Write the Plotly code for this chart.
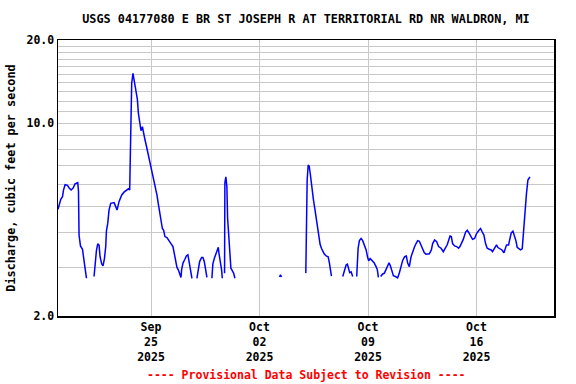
import datetime as dt
import plotly.graph_objects as go

TITLE = "USGS 04177080 E BR ST JOSEPH R AT TERRITORIAL RD NR WALDRON, MI"
Y_TITLE = "Discharge, cubic feet per second"
NOTE = "---- Provisional Data Subject to Revision ----"

START = dt.datetime(2025, 9, 19)
END = dt.datetime(2025, 10, 21)

# hours since 2025-09-19 00:00 and discharge (cfs); None = gap in record
hours = [
    0, 2.8, 4.3, 7.0, 8.5, 11.0, 14.7, 17.2, 20.3, 23.4, 26.4, 30.6, 31.7, 32.6, 34.8, 37.9, 39.9, 41.9, 44.1,
    50,
    55.8, 57.4, 59.5, 61.5, 63.6, 65.1, 67.7, 69.7, 71.9, 73.9, 75.0, 77.0, 79.0, 81.6, 86.8, 89.4, 91.4, 94.5,
    98.7, 102.2, 105.9, 109.0, 111.0, 112.1, 114.1, 116.1, 118.3, 120.3, 122.9, 124.5, 126.5, 128.5, 130.7,
    132.7, 134.7, 136.9, 138.9, 140.9, 143.0, 146.1, 149.2, 151.2, 153.2, 155.4, 157.4, 159.4, 161.6, 163.6,
    165.6, 168.7, 171.8, 174.9, 178.0, 180.2, 182.2, 184.2, 186.3, 188.4, 190.4, 191.4, 193.5, 196.5, 198.7,
    201.2, 202.7, 204.9, 207.4,
    211,
    215.1, 217.3, 219.3, 222.4, 224.4, 226.5, 228.6, 230.6,
    234,
    238.3, 239.8, 242.0, 244.0, 246.0, 248.2, 249.1, 251.3, 253.3, 254.4,
    256,
    257.9, 258.4, 259.9, 261.5, 262.6, 264.6, 266.1, 267.7, 269.8, 271.9, 273.9,
    300,
    343.0, 344.5, 346.1,
    360,
    383.7, 384.3, 385.8, 387.4, 388.9, 390.5, 392.0, 393.6, 395.6, 397.6, 399.7, 401.8, 403.8, 405.9, 407.9,
    410.0, 412.1, 415.2, 418.3, 420.3, 421.9, 423.4,
    430,
    440.9, 443.0, 446.1, 448.1, 449.7, 451.7, 453.9, 456.3,
    459,
    462.5, 463.1, 464.7, 466.7, 469.3, 471.8, 474.4, 477.1, 479.5, 481.1, 483.3, 486.3, 489.4, 492.5, 494.5, 496.1,
    498,
    499.6, 502.7, 505.4, 508.0, 510.5, 512.6, 514.6, 516.7, 519.3, 522.4, 525.9, 528.6, 531.2, 533.7, 536.8,
    539.4, 541.4, 544.0, 546.7, 549.1, 551.8, 554.4, 556.9, 559.5, 562.1, 564.6, 567.2, 569.9, 575.0, 578.1,
    580.1, 583.2, 586.3, 589.3, 593.1, 596.6, 599.7, 602.8, 607.0, 609.0, 611.0, 614.1, 617.2, 620.3, 622.4,
    624.4, 627.5, 631.1, 633.7, 636.3, 638.8, 641.9, 645.0, 648.1, 651.8, 654.3, 656.9, 659.5, 662.0, 664.6,
    667.7, 670.8, 672.8, 675.9, 679.0, 681.2, 684.3, 687.4, 690.5, 692.5, 694.5, 697.6, 699.8, 701.8, 704.4,
    706.9, 709.0, 711.0, 713.7, 716.1, 718.8, 720.3, 722.3, 723.4, 724.5, 725.4, 727.6, 730.7,
]

discharge = [
    4.87, 5.12, 5.29, 5.41, 5.72, 5.98, 5.95, 5.82, 5.72, 5.82, 6.02, 6.08, 5.68, 3.93, 3.59, 3.49, 3.28, 2.98, 2.74,
    None,
    2.78, 3.06, 3.45, 3.65, 3.61, 3.28, 3.09, 3.04, 3.23, 3.57, 4.07, 4.33, 4.84, 5.12, 5.15, 4.98, 4.84, 5.19,
    5.49, 5.62, 5.72, 5.78, 5.72, 8.33, 13.94, 15.15, 13.94, 13.0, 12.19, 10.85, 9.98, 9.38, 9.70,
    9.05, 8.70, 8.26, 7.87, 7.46, 7.05, 6.67, 6.14, 5.88, 5.49, 5.09, 4.71, 4.33, 4.15, 4.09,
    3.88, 3.85, 3.77, 3.66, 3.57, 3.38, 3.15, 3.00, 2.94, 2.82, 2.76, 2.94, 3.11, 3.21, 3.30,
    3.33, 3.15, 2.98, 2.74,
    None,
    2.74, 3.02, 3.15, 3.26, 3.26, 3.15, 2.94, 2.76,
    None,
    2.74, 3.09, 3.23, 3.33, 3.42, 3.55, 3.39, 3.18, 2.94, 2.74,
    None,
    2.86, 6.08, 6.39, 5.88, 4.53, 3.77, 3.18, 2.98, 2.92, 2.86, 2.74,
    None,
    2.77, 2.82, 2.77,
    None,
    2.86, 3.77, 6.22, 7.05, 6.99, 6.58, 6.05, 5.64, 5.26, 4.91, 4.53, 4.15, 3.88, 3.63, 3.52,
    3.42, 3.36, 3.30, 3.28, 3.11, 2.94, 2.79,
    None,
    2.78, 2.92, 3.06, 3.08, 2.94, 2.87, 2.89, 2.78,
    None,
    2.78, 2.98, 3.52, 3.75, 3.82, 3.75, 3.62, 3.47, 3.26, 3.17, 3.23, 3.18, 3.12, 3.02, 2.94, 2.76,
    None,
    2.78, 2.84, 2.86, 2.95, 3.06, 3.12, 3.04, 2.92, 2.80, 2.78, 2.75, 2.87, 3.04, 3.18, 3.28,
    3.30, 3.11, 3.02, 3.28, 3.42, 3.55, 3.66, 3.75, 3.73, 3.62, 3.50, 3.39, 3.35, 3.36, 3.47,
    3.66, 3.77, 3.72, 3.57, 3.52, 3.42, 3.52, 3.63, 3.90, 3.88, 3.66, 3.59, 3.57, 3.52, 3.57,
    3.66, 3.79, 4.03, 4.09, 4.00, 3.88, 3.79, 3.82, 3.98, 4.09, 4.15, 4.03, 3.93, 3.66, 3.52,
    3.49, 3.47, 3.42, 3.54, 3.62, 3.54, 3.51, 3.47, 3.39, 3.52, 3.62, 3.62, 3.82, 4.00, 4.06,
    3.90, 3.75, 3.55, 3.49, 3.47, 3.50, 3.88, 4.47, 5.19, 5.33, 5.56, 6.22, 6.39,
]

tick_dates = ["2025-09-25", "2025-10-02", "2025-10-09", "2025-10-16"]
tick_labels = ["Sep<br>25<br>2025", "Oct<br>02<br>2025", "Oct<br>09<br>2025", "Oct<br>16<br>2025"]

y_grid = [2, 3, 4, 5, 6, 7, 8, 9, 10, 11, 12, 13, 14, 15, 16, 17, 18, 19, 20]
y_labels = {2: "2.0", 10: "10.0", 20: "20.0"}

times = [START + dt.timedelta(hours=h) for h in hours]

FONT = "DejaVu Sans Mono"

fig = go.Figure()
fig.add_trace(go.Scatter(
    x=times, y=discharge, mode="lines",
    line=dict(color="#0000FF", width=1.5),
    connectgaps=False, hoverinfo="skip", showlegend=False,
))

fig.update_layout(
    width=576, height=384,
    margin=dict(l=58, r=22, t=40, b=68, autoexpand=False),
    paper_bgcolor="white", plot_bgcolor="white",
    font=dict(family=FONT, size=12, color="black"),
    title=dict(text="<b>" + TITLE + "</b>", x=0.5, xref="paper", xanchor="center",
               y=1 - 19 / 384, yref="container", yanchor="middle",
               font=dict(family=FONT, size=11.8, color="black")),
    showlegend=False,
)

fig.update_xaxes(
    type="date",
    range=[START, END],
    tickvals=tick_dates,
    ticktext=["<b>" + t.replace("<br>", "</b><br><b>") + "</b>" for t in tick_labels],
    tickfont=dict(family=FONT, size=11.5, color="black"),
    showgrid=True, gridcolor="#C8C8C8", gridwidth=1,
    showline=True, linecolor="black", linewidth=1.5, mirror=True,
    ticks="", zeroline=False, automargin=False,
)

fig.update_yaxes(
    type="log",
    range=[0.30103, 1.30103],
    tickvals=y_grid,
    ticktext=["<b>" + y_labels[v] + "</b>" if v in y_labels else "" for v in y_grid],
    tickfont=dict(family=FONT, size=11.5, color="black"),
    showgrid=True, gridcolor="#C8C8C8", gridwidth=1,
    showline=True, linecolor="black", linewidth=1.5, mirror=True,
    ticks="", zeroline=False, automargin=False,
    title=dict(text="<b>" + Y_TITLE + "</b>", font=dict(family=FONT, size=11.8, color="black"), standoff=8),
)

fig.add_annotation(
    text="<b>" + NOTE + "</b>",
    x=0.5, xref="paper", y=(316 - 375) / 276, yref="paper", yanchor="middle", xanchor="center",
    showarrow=False, font=dict(family=FONT, size=11.5, color="#FF0000"),
)

fig.write_html(
    "out.html",
    config={"displayModeBar": False, "staticPlot": True},
    post_script="document.body.style.margin='0';document.body.style.padding='0';document.body.style.overflow='hidden';",
)
